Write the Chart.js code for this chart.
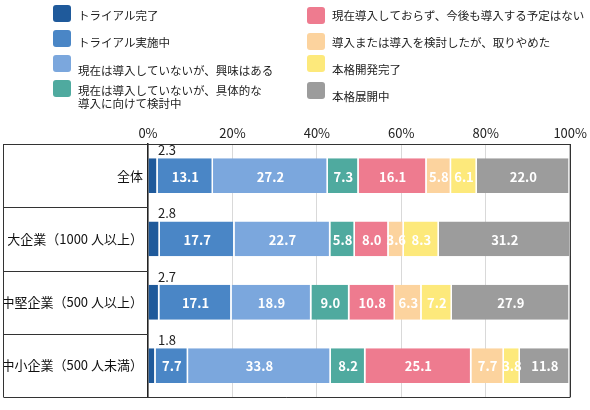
<!DOCTYPE html>
<html lang="ja">
<head>
<meta charset="utf-8">
<script src="https://cdn.jsdelivr.net/npm/chart.js@4.4.1/dist/chart.umd.min.js"></script>
<style>
  html, body { margin: 0; padding: 0; background: #fff; }
  #wrap { width: 590px; height: 410px; }
</style>
</head>
<body>
<div id="wrap"><canvas id="chart" width="590" height="410"></canvas></div>
<script>
// 区分
const categories = ['全体', '大企業（1000 人以上）', '中堅企業（500 人以上）', '中小企業（500 人未満）'];

// 凡例（\n で改行）
const seriesNames = [
    'トライアル完了',
    'トライアル実施中',
    '現在は導入していないが、興味はある',
    '現在は導入していないが、具体的な\n導入に向けて検討中',
    '現在導入しておらず、今後も導入する予定はない',
    '導入または導入を検討したが、取りやめた',
    '本格開発完了',
    '本格展開中'
];
const seriesColors = ['#1f5a9b', '#4a86c6', '#7ba7dd', '#4faa9f', '#ee7b8f', '#fcd39e', '#fde97b', '#9c9c9c'];

// 値（%）
const trialDone      = [2.3, 2.8, 2.7, 1.8];
const trialOngoing   = [13.1, 17.7, 17.1, 7.7];
const interested     = [27.2, 22.7, 18.9, 33.8];
const considering    = [7.3, 5.8, 9.0, 8.2];
const noPlan         = [16.1, 8.0, 10.8, 25.1];
const abandoned      = [5.8, 3.6, 6.3, 7.7];
const devDone        = [6.1, 8.3, 7.2, 3.8];
const deployed       = [22.0, 31.2, 27.9, 11.8];

const seriesValues = [trialDone, trialOngoing, interested, considering, noPlan, abandoned, devDone, deployed];

const xTickStep = 20;
const xMax = 100;

const JP_FONT = '"Noto Sans CJK JP", "Noto Sans", sans-serif';

// 凡例を2列で描く
const legendPlugin = {
    id: 'jpLegend',
    afterDraw(chart) {
        const ctx = chart.ctx;
        const cols = [
            { boxX: 53, textX: 78, tops: [5, 30, 55, 80], textY: [16, 43, 71, 91] },
            { boxX: 307, textX: 332, tops: [7, 33, 55, 82], textY: [16, 43, 70, 97] }
        ];
        ctx.save();
        ctx.font = '11.5px ' + JP_FONT;
        ctx.textBaseline = 'middle';
        ctx.textAlign = 'left';
        chart.data.datasets.forEach((ds, i) => {
            const col = cols[i < 4 ? 0 : 1];
            const row = i % 4;
            ctx.fillStyle = ds.backgroundColor;
            ctx.beginPath();
            ctx.roundRect(col.boxX, col.tops[row], 18, 17, 3);
            ctx.fill();
            ctx.fillStyle = '#222';
            ds.label.split('\n').forEach((line, k) => {
                ctx.fillText(line, col.textX, col.textY[row] + k * 13);
            });
        });
        ctx.restore();
    }
};

// 左側の表罫線と外枠
const framePlugin = {
    id: 'frame',
    afterDraw(chart) {
        const { ctx, chartArea: a, scales: { y } } = chart;
        const x0 = 3.5;
        ctx.save();
        ctx.strokeStyle = '#333';
        ctx.lineWidth = 1;
        ctx.beginPath();
        ctx.moveTo(x0, a.top); ctx.lineTo(x0, a.bottom);
        ctx.moveTo(a.right, a.top); ctx.lineTo(a.right, a.bottom);
        for (let i = 0; i <= categories.length; i++) {
            const yy = Math.round(y.getPixelForValue(i - 0.5)) + 0.5;
            ctx.moveTo(x0, yy);
            ctx.lineTo(i === 0 || i === categories.length ? a.right : a.left, yy);
        }
        ctx.stroke();
        ctx.restore();
    }
};

// 値ラベル
const valueLabels = {
    id: 'valueLabels',
    afterDatasetsDraw(chart) {
        const ctx = chart.ctx;
        ctx.save();
        ctx.textBaseline = 'middle';
        ctx.textAlign = 'center';
        chart.data.datasets.forEach((ds, i) => {
            const meta = chart.getDatasetMeta(i);
            meta.data.forEach((bar, j) => {
                const txt = ds.data[j].toFixed(1);
                if (i === 0) {
                    ctx.font = '13px ' + JP_FONT;
                    ctx.fillStyle = '#222';
                    ctx.fillText(txt, chart.chartArea.left + 19, bar.y - bar.height / 2 - 8);
                } else {
                    ctx.font = 'bold 13px ' + JP_FONT;
                    ctx.fillStyle = '#fff';
                    ctx.fillText(txt, (bar.x + bar.base) / 2, bar.y + 1);
                }
            });
        });
        ctx.restore();
    }
};

new Chart(document.getElementById('chart'), {
    type: 'bar',
    data: {
        labels: categories,
        datasets: seriesValues.map((vals, i) => ({
            label: seriesNames[i],
            data: vals,
            backgroundColor: seriesColors[i],
            borderColor: '#fff',
            borderWidth: { top: 0, bottom: 0, left: 0, right: 1.5 },
            barPercentage: 0.55,
            categoryPercentage: 1
        }))
    },
    options: {
        indexAxis: 'y',
        responsive: false,
        animation: false,
        layout: { padding: { top: 120, left: 3, right: 19, bottom: 10 } },
        scales: {
            x: {
                stacked: true,
                position: 'top',
                min: 0,
                max: xMax,
                ticks: {
                    stepSize: xTickStep,
                    callback: v => v + '%',
                    font: { family: JP_FONT, size: 13 },
                    color: '#222',
                    padding: 3
                },
                grid: {
                    drawTicks: false,
                    color: c => (c.tick && c.tick.value === xMax) ? '#333' : '#d9d9d9'
                },
                border: { display: true, color: '#333', width: 1 },
                afterFit: s => { s.height = 24; }
            },
            y: {
                stacked: true,
                ticks: {
                    font: { family: JP_FONT, size: 13 },
                    color: '#111',
                    padding: 5
                },
                grid: { display: false, drawTicks: false },
                border: { display: true, color: '#222', width: 1.5 },
                afterFit: s => { s.width = 145; }
            }
        },
        plugins: {
            legend: { display: false },
            tooltip: { enabled: false }
        }
    },
    plugins: [legendPlugin, framePlugin, valueLabels]
});
</script>
</body>
</html>
